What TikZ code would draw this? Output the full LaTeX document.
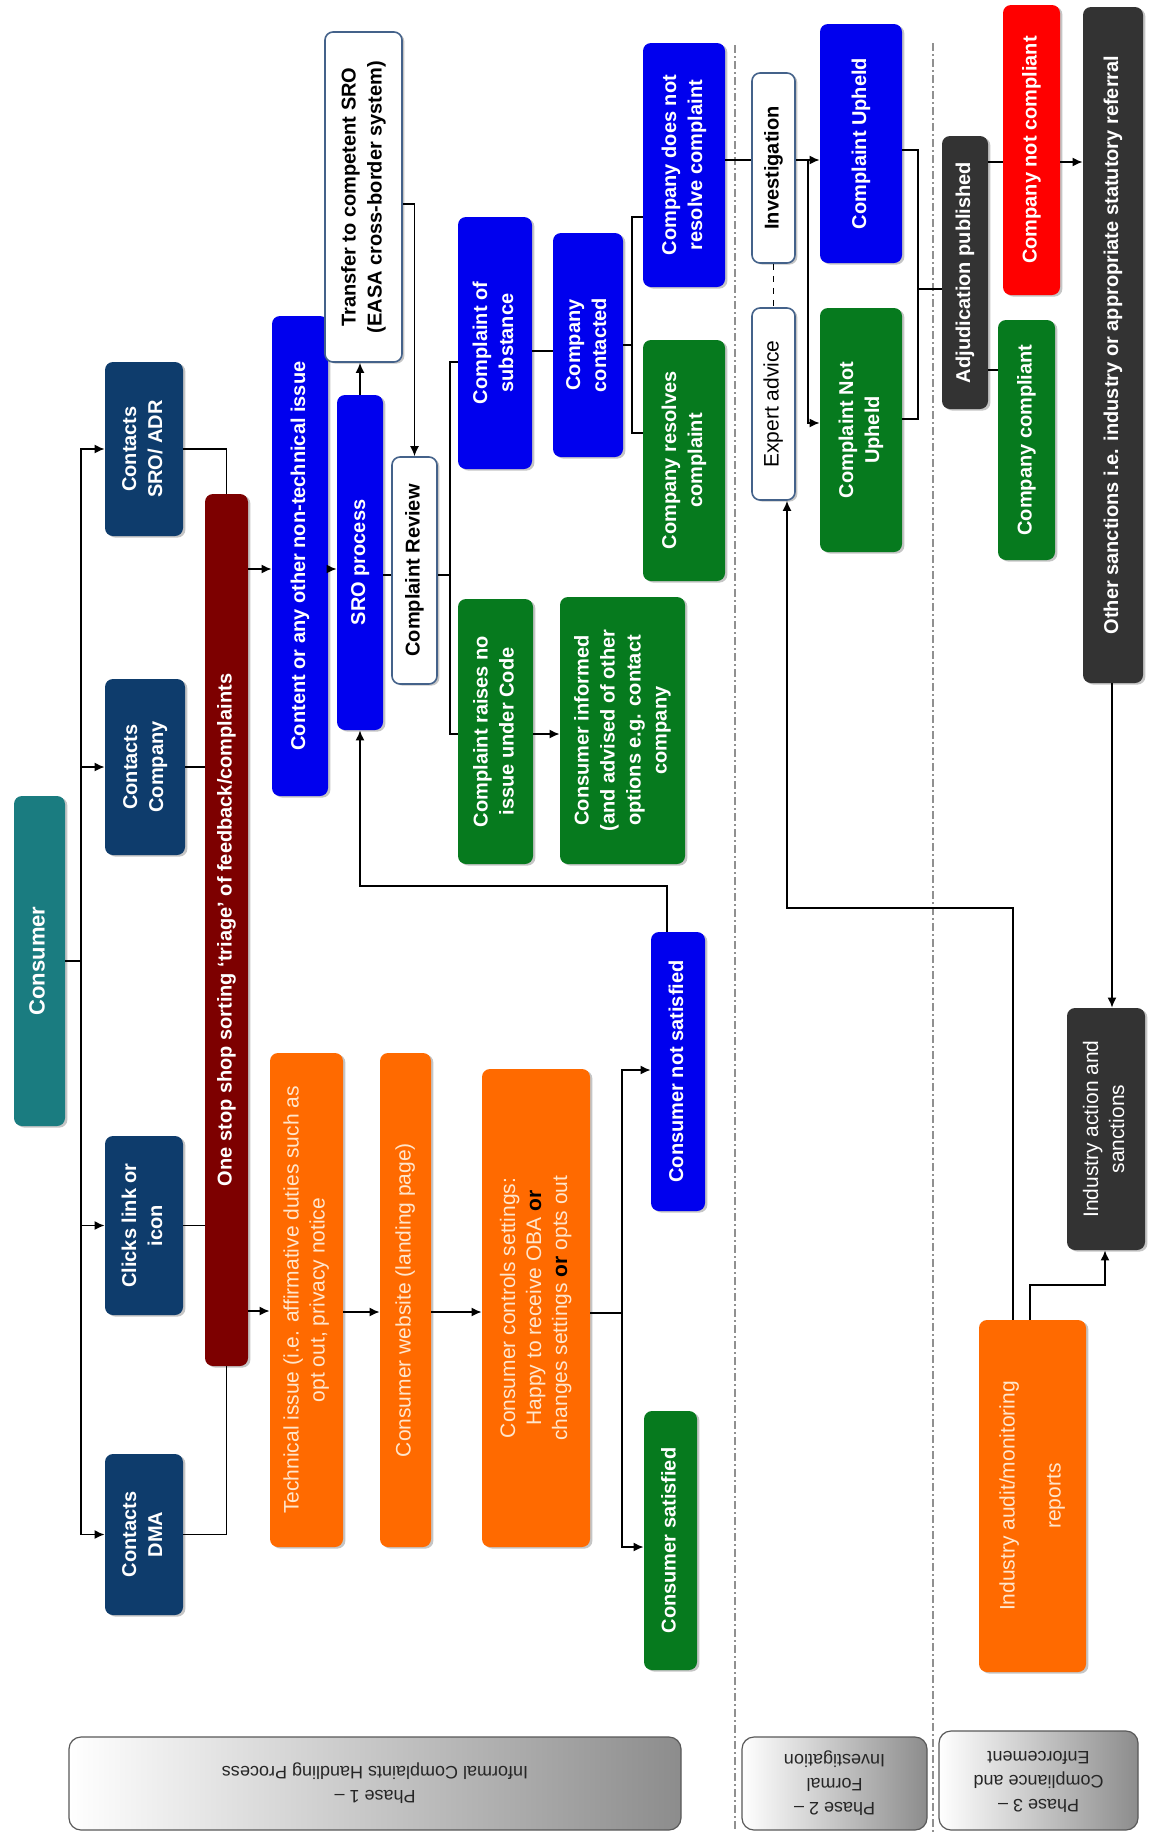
\documentclass[tikz,border=0pt]{standalone}
\usepackage{fontspec}
\setmainfont{Liberation Sans}
\usetikzlibrary{arrows.meta,shadows}
\definecolor{cteal}{HTML}{1A7C80}
\definecolor{cnavy}{HTML}{0E3C6C}
\definecolor{cdred}{HTML}{7D0000}
\definecolor{cblue}{HTML}{0000EE}
\definecolor{cgreen}{HTML}{067A1E}
\definecolor{corange}{HTML}{FF6A00}
\definecolor{cdark}{HTML}{333333}
\definecolor{cred}{HTML}{FF0000}
\definecolor{cborder}{HTML}{44628A}
\definecolor{corgtext}{HTML}{FFE6CC}
\definecolor{csep}{HTML}{909090}
\newcommand\vt[1]{\rotatebox{90}{\begin{tabular}{@{}c@{}}#1\end{tabular}}}
\newcommand\ut[1]{\rotatebox{180}{\begin{tabular}{@{}c@{}}#1\end{tabular}}}
\begin{document}
\begin{tikzpicture}[x=0.5pt,y=-0.5pt,
  sz/.style 2 args={minimum width=#1*0.5pt,minimum height=#2*0.5pt},
  box/.style={rectangle,rounded corners=4pt,inner sep=0pt,text=white,
     font=\fontsize{10}{13}\selectfont\bfseries,
     drop shadow={shadow xshift=1.2pt,shadow yshift=-0.8pt,opacity=0.45}},
  tealbox/.style={box,fill=cteal},
  navybox/.style={box,fill=cnavy},
  dredbox/.style={box,fill=cdred},
  bluebox/.style={box,fill=cblue},
  greenbox/.style={box,fill=cgreen},
  orgbox/.style={box,fill=corange,text=corgtext,font=\fontsize{10.5}{13}\selectfont},
  darkbox/.style={box,fill=cdark},
  redbox/.style={box,fill=cred},
  whitebox/.style={box,fill=white,draw=cborder,line width=0.8pt,text=black},
  phase/.style={rectangle,rounded corners=6pt,draw=black!65,line width=0.6pt,
     left color=white,right color=black!45,inner sep=0pt,text=black!85,
     font=\fontsize{9}{12}\selectfont},
  ln/.style={draw=black,line width=0.8pt},
  arr/.style={ln,-{Latex[length=5pt,width=4.5pt]}},
  sep/.style={draw=csep,line width=0.7pt,dash pattern=on 4pt off 1.5pt on 1pt off 1.5pt}
]
\useasboundingbox (0,0) rectangle (1150,1832);
\fill[white] (0,0) rectangle (1150,1832);

% phase separators
\draw[sep] (735,45) -- (735,1832);
\draw[sep] (933,43) -- (933,1832);

% nodes
\node[tealbox,sz={51}{330},font=\fontsize{11}{13}\selectfont\bfseries] (consumer) at (39.5,961) {\vt{Consumer}};
\node[navybox,sz={78}{174}] (sroadr) at (144,449) {\vt{Contacts\\SRO/ ADR}};
\node[navybox,sz={80}{176}] (company) at (145,767) {\vt{Contacts\\Company}};
\node[navybox,sz={78}{179}] (clicks) at (144,1225.5) {\vt{Clicks link or\\icon}};
\node[navybox,sz={78}{161}] (dma) at (144,1534.5) {\vt{Contacts\\DMA}};
\node[dredbox,sz={43}{872}] (triage) at (226.5,930) {\vt{One stop shop sorting ‘triage’ of feedback/complaints}};
\node[bluebox,sz={56}{480}] (content) at (300,556) {\vt{Content or any other non-technical issue}};
\node[whitebox,sz={77}{330}] (transfer) at (363.5,197) {\vt{Transfer to competent SRO\\(EASA cross-border system)}};
\node[bluebox,sz={46}{335}] (sro) at (360,562.5) {\vt{SRO process}};
\node[whitebox,sz={45}{227}] (review) at (414.5,570.5) {\vt{Complaint Review}};
\node[bluebox,sz={74}{252}] (substance) at (495,343) {\vt{Complaint of\\substance}};
\node[bluebox,sz={70}{224}] (contacted) at (588,345) {\vt{Company\\contacted}};
\node[bluebox,sz={82}{244}] (noresolve) at (684,165) {\vt{Company does not\\resolve complaint}};
\node[greenbox,sz={82}{241}] (resolves) at (684,460.5) {\vt{Company resolves\\complaint}};
\node[greenbox,sz={75}{265}] (noissue) at (495.5,731.5) {\vt{Complaint raises no\\issue under Code}};
\node[greenbox,sz={125}{267}] (informed) at (622.5,730.5) {\vt{Consumer informed\\(and advised of other\\options e.g. contact\\company}};
\node[whitebox,sz={43}{190}] (investigation) at (773.5,168) {\vt{Investigation}};
\node[whitebox,sz={43}{192},font=\fontsize{10.5}{13}\selectfont] (expert) at (773.5,404) {\vt{Expert advice}};
\node[bluebox,sz={82}{239}] (upheld) at (861,143.5) {\vt{Complaint Upheld}};
\node[greenbox,sz={82}{244}] (notupheld) at (861,430) {\vt{Complaint Not\\Upheld}};
\node[darkbox,sz={46}{273}] (adjud) at (965,272.5) {\vt{Adjudication published}};
\node[redbox,sz={57}{290}] (notcompliant) at (1031.5,150) {\vt{Company not compliant}};
\node[greenbox,sz={57}{240}] (compliant) at (1026.5,440) {\vt{Company compliant}};
\node[darkbox,sz={60}{676}] (other) at (1113,345) {\vt{Other sanctions i.e. industry or appropriate statutory referral}};
\node[darkbox,sz={78}{242},font=\fontsize{10.5}{13}\selectfont] (industry) at (1106,1129) {\vt{Industry action and\\sanctions}};
\node[orgbox,sz={107}{352}] (audit) at (1032.5,1496) {\vt{Industry audit/monitoring\\[10pt]reports}};
\node[orgbox,sz={73}{494}] (tech) at (306.5,1300) {\vt{Technical issue (i.e. affirmative duties such as\\opt out, privacy notice}};
\node[orgbox,sz={51}{494}] (website) at (405.5,1300) {\vt{Consumer website (landing page)}};
\node[orgbox,sz={108}{478}] (controls) at (536,1308) {\vt{Consumer controls settings:\\Happy to receive OBA {\color{black}\bfseries or}\\changes settings {\color{black}\bfseries or} opts out}};
\node[bluebox,sz={54}{279}] (notsat) at (678,1071.5) {\vt{Consumer not satisfied}};
\node[greenbox,sz={53}{259}] (sat) at (670.5,1540.5) {\vt{Consumer satisfied}};

% phase labels
\node[phase,sz={612}{93}] (ph1) at (375,1783.5) {\ut{Phase 1 –\\Informal Complaints Handling Process}};
\node[phase,sz={185}{93}] (ph2) at (834.5,1783.5) {\ut{Phase 2 –\\Formal\\Investigation}};
\node[phase,sz={199}{99}] (ph3) at (1038.5,1780.5) {\ut{Phase 3 –\\Compliance and\\Enforcement}};

% consumer bus
\coordinate (bus) at (81,961);
\draw[ln] (consumer.east |- bus) -- (bus);
\draw[arr] (bus) |- (sroadr);
\draw[arr] (bus) |- (company);
\draw[arr] (bus) |- (clicks);
\draw[arr] (bus) |- (dma);

% into triage
\draw[ln] (sroadr.east) -| (triage.north);
\draw[ln] (company.east) -- (company.east -| triage.west);
\draw[ln] (clicks.east) -- (clicks.east -| triage.west);
\draw[ln] (dma.east) -| (triage.south);

% non-technical branch
\draw[arr] (triage.east |- 0,569) -- (content.west |- 0,569);
\draw[arr] (content.east |- 0,569) -- (sro.west |- 0,569);
\draw[arr] (sro.north) -- (sro.north |- transfer.south);
\draw[arr] (transfer.east |- 0,204) -| (review.north);
\draw[ln] (sro.east |- 0,575) -- (review.west |- 0,575);
\coordinate (rv) at (450,575);
\draw[ln] (review.east |- rv) -- (rv);
\draw[ln] (substance.west |- 0,362) -| (rv) |- (noissue.west |- 0,734);
\draw[arr] (noissue.east |- 0,734) -- (informed.west |- 0,734);
\draw[ln] (substance.east |- 0,351) -- (contacted.west |- 0,351);
\coordinate (cc) at (632,345);
\draw[ln] (contacted.east) -- (cc);
\draw[ln] (noresolve.west |- 0,217) -| (cc) |- (resolves.west |- 0,433);

% formal investigation
\draw[ln] (noresolve.east |- 0,160) -- (investigation.west |- 0,160);
\coordinate (iv) at (808,160);
\draw[arr] (investigation.east |- iv) -- (upheld.west |- iv);
\draw[arr] (iv) |- (notupheld.west |- 0,423);
\draw[ln,dashed] (investigation.south) -- (expert.north);
\coordinate (uj) at (918,289);
\draw[ln] (upheld.east |- 0,150) -| (uj) |- (notupheld.east |- 0,419);
\draw[ln] (uj) -- (uj -| adjud.west);
\draw[ln] (adjud.east |- 0,162) -- (notcompliant.west |- 0,162);
\draw[ln] (adjud.east |- 0,370) -- (compliant.west |- 0,370);
\draw[arr] (notcompliant.east |- 0,162) -- (other.west |- 0,162);
\draw[arr] (other.south -| 1112,0) -- (industry.north -| 1112,0);

% audit
\coordinate (ia) at (1105,1285);
\draw[arr] (audit.north -| 1030,0) |- (ia) -- (ia |- industry.south);
\coordinate (ea) at (1013,908);
\draw[arr] (audit.north -| ea) -- (ea) -| (expert.south -| 787,0);

% technical branch
\draw[arr] (triage.east |- 0,1311) -- (tech.west |- 0,1311);
\draw[arr] (tech.east |- 0,1312) -- (website.west |- 0,1312);
\draw[arr] (website.east |- 0,1312) -- (controls.west |- 0,1312);
\coordinate (cs) at (622,1313);
\draw[ln] (controls.east |- cs) -- (cs);
\draw[arr] (cs) |- (notsat.west |- 0,1070);
\draw[arr] (cs) |- (sat.west |- 0,1547);
\coordinate (ns) at (667,886);
\draw[arr] (notsat.north -| ns) -- (ns) -| (sro.south);
\end{tikzpicture}
\end{document}
